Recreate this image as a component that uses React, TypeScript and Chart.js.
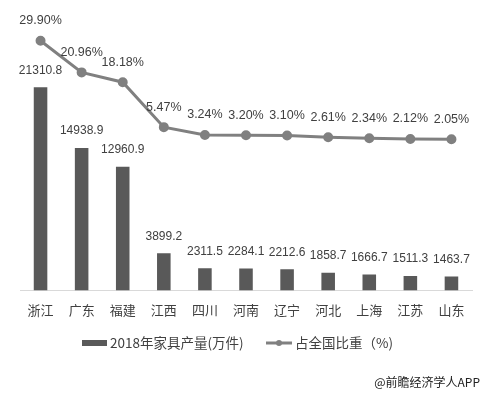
import React, { useEffect, useRef } from "react";
import { Chart, registerables } from "chart.js";

Chart.register(...registerables);

const categories = ["浙江", "广东", "福建", "江西", "四川", "河南", "辽宁", "河北", "上海", "江苏", "山东"];
const production = [21310.8, 14938.9, 12960.9, 3899.2, 2311.5, 2284.1, 2212.6, 1858.7, 1666.7, 1511.3, 1463.7];
const share = [29.9, 20.96, 18.18, 5.47, 3.24, 3.2, 3.1, 2.61, 2.34, 2.12, 2.05];
const barLabel = "2018年家具产量(万件)";
const lineLabel = "占全国比重（%)";
const sourceText = "@前瞻经济学人APP";

const BAR_COLOR = "#595959";
const LINE_COLOR = "#808080";
const TEXT_COLOR = "#404040";
const FONT = "'Liberation Sans', 'Noto Sans CJK SC', sans-serif";
const CJK_FONT = "'Noto Sans CJK SC', sans-serif";

const labelPlugin = {
  id: "labelPlugin",
  afterDatasetsDraw(chart: any) {
    const ctx = chart.ctx;
    ctx.save();
    ctx.textAlign = "center";
    ctx.textBaseline = "middle";
    ctx.fillStyle = TEXT_COLOR;
    ctx.font = `12px ${FONT}`;
    const barMeta = chart.getDatasetMeta(0);
    barMeta.data.forEach((el: any, i: number) => {
      ctx.fillText(production[i].toFixed(1), el.x, el.y - 17);
    });
    ctx.font = `12.5px ${FONT}`;
    const lineMeta = chart.getDatasetMeta(1);
    lineMeta.data.forEach((el: any, i: number) => {
      ctx.fillText(share[i].toFixed(2) + "%", el.x, el.y - 20);
    });

    // legend
    const ly = 343;
    ctx.fillStyle = BAR_COLOR;
    ctx.fillRect(82, ly - 3, 25, 6);
    ctx.fillStyle = TEXT_COLOR;
    ctx.textAlign = "left";
    ctx.font = `13.5px ${CJK_FONT}`;
    ctx.fillText(barLabel, 110, ly);
    ctx.strokeStyle = LINE_COLOR;
    ctx.lineWidth = 3;
    ctx.beginPath();
    ctx.moveTo(266, ly);
    ctx.lineTo(292, ly);
    ctx.stroke();
    ctx.fillStyle = LINE_COLOR;
    ctx.beginPath();
    ctx.arc(279, ly, 3, 0, Math.PI * 2);
    ctx.fill();
    ctx.fillStyle = TEXT_COLOR;
    ctx.fillText(lineLabel, 295, ly);

    // source
    ctx.fillStyle = "#222";
    ctx.font = `12px ${CJK_FONT}`;
    ctx.textAlign = "right";
    ctx.fillText(sourceText, 480, 382);
    ctx.restore();
  },
};

export default function App() {
  const ref = useRef<HTMLCanvasElement>(null);
  useEffect(() => {
    document.body.style.margin = "0";
    const chart = new Chart(ref.current!, {
      data: {
        labels: categories,
        datasets: [
          {
            type: "bar",
            label: barLabel,
            data: production,
            backgroundColor: BAR_COLOR,
            yAxisID: "y",
            categoryPercentage: 1,
            barPercentage: 0.33,
            order: 2,
          },
          {
            type: "line",
            label: lineLabel,
            data: share,
            borderColor: LINE_COLOR,
            backgroundColor: LINE_COLOR,
            borderWidth: 3,
            pointRadius: 3.5,
            pointBackgroundColor: LINE_COLOR,
            pointBorderColor: LINE_COLOR,
            yAxisID: "y1",
            order: 1,
          },
        ],
      } as any,
      options: {
        animation: false,
        responsive: false,
        maintainAspectRatio: false,
        layout: { padding: { left: 20, right: 14, top: 33, bottom: 63 } },
        plugins: { legend: { display: false }, tooltip: { enabled: false } },
        scales: {
          x: {
            grid: { display: false, drawTicks: false },
            border: { display: true, color: "#d9d9d9", width: 1 },
            ticks: { color: TEXT_COLOR, font: { size: 13, family: CJK_FONT }, padding: 12 },
          },
          y: { display: false, min: 0, max: 27000 },
          y1: { display: false, min: -40.7, max: 32.1, position: "right" },
        },
      },
      plugins: [labelPlugin],
    });
    return () => chart.destroy();
  }, []);
  return (
    <div style={{ width: 486, height: 393, background: "#fff" }}>
      <canvas ref={ref} width={486} height={393} />
    </div>
  );
}
